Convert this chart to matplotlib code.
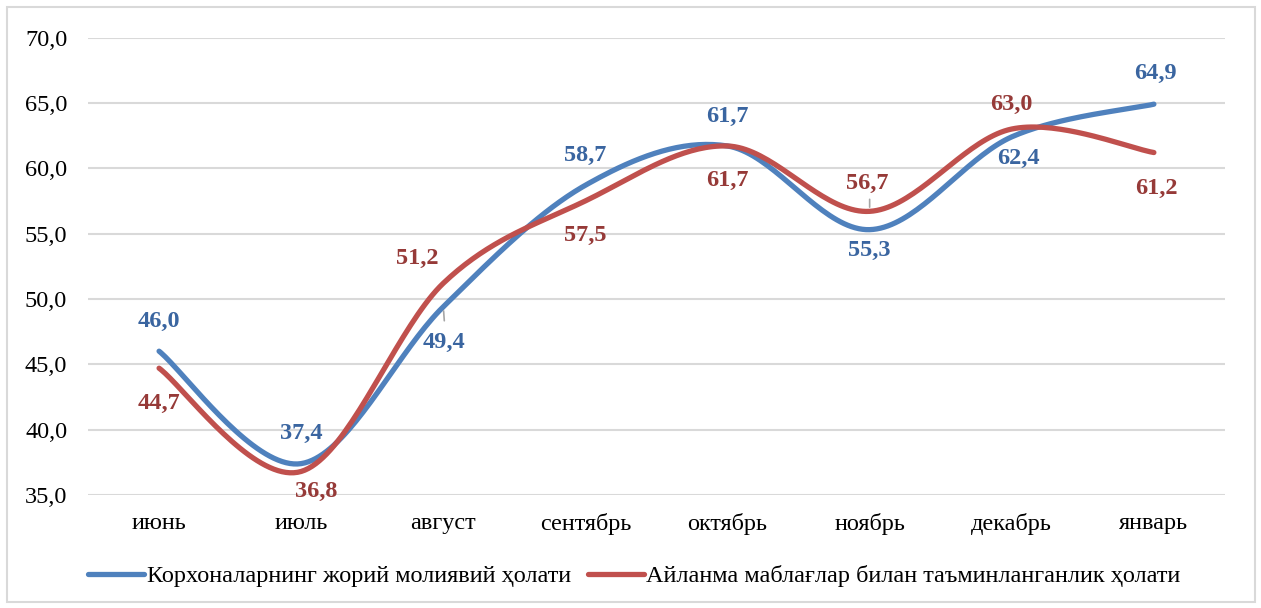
import numpy as np
import matplotlib.pyplot as plt
from matplotlib.patches import Rectangle

plt.rcParams['font.family'] = ['Liberation Serif', 'DejaVu Serif']

months = ['июнь', 'июль', 'август', 'сентябрь', 'октябрь', 'ноябрь', 'декабрь', 'январь']
current_state = [46.0, 37.4, 49.4, 58.7, 61.7, 55.3, 62.4, 64.9]
working_capital = [44.7, 36.8, 51.2, 57.5, 61.7, 56.7, 63.0, 61.2]
names = ['Корхоналарнинг жорий молиявий ҳолати',
         'Айланма маблағлар билан таъминланганлик ҳолати']

# label offsets in pixels (dx, dy) relative to each point
blue_offsets = [(0, 30), (0, 30), (1, -36), (0, 30), (0, 30), (0, -21), (7, -22), (2, 31)]
red_offsets = [(0, -35), (15, -20), (-26, 25), (0, -35), (0, -34), (-2, 28), (0, 25), (2, -36)]

BLUE, BLUE_TXT = '#4f81bd', '#3a65a0'
RED, RED_TXT = '#c0504d', '#963a38'
FS = 17.5


def smooth(x, y, n=40):
    # Catmull-Rom spline, similar to Excel's smoothed line
    p = np.column_stack([x, y]).astype(float)
    p = np.vstack([p[0], p, p[-1]])
    out = []
    t = np.linspace(0, 1, n)[:, None]
    for i in range(1, len(p) - 2):
        p0, p1, p2, p3 = p[i - 1], p[i], p[i + 1], p[i + 2]
        c1 = p1 + (p2 - p0) / 6
        c2 = p2 - (p3 - p1) / 6
        seg = ((1 - t) ** 3) * p1 + 3 * ((1 - t) ** 2) * t * c1 + 3 * (1 - t) * t ** 2 * c2 + t ** 3 * p2
        out.append(seg if i == 1 else seg[1:])
    out = np.vstack(out)
    return out[:, 0], out[:, 1]


fig = plt.figure(figsize=(12.61, 6.08), dpi=100)
ax = fig.add_axes([0.0698, 0.1859, 0.9016, 0.7524])

x = np.arange(len(months))
for vals, col, txtcol, offs, name in [
        (current_state, BLUE, BLUE_TXT, blue_offsets, names[0]),
        (working_capital, RED, RED_TXT, red_offsets, names[1])]:
    sx, sy = smooth(x, vals)
    ax.plot(sx, sy, color=col, lw=3.8, solid_capstyle='round', label=name, zorder=3)
    for xi, v, (dx, dy) in zip(x, vals, offs):
        lab = ('%.1f' % v).replace('.', ',')
        ax.annotate(lab, (xi, v), xytext=(dx, dy), textcoords='offset pixels',
                    ha='center', va='center', fontsize=FS, fontweight='bold',
                    color=txtcol, zorder=4)

# leader lines
ax.annotate('', (2, current_state[2]), xytext=(1, -14), textcoords='offset pixels',
            arrowprops=dict(arrowstyle='-', color='#a6a6a6', lw=1.2, shrinkA=0, shrinkB=3))
ax.annotate('', (5, working_capital[5]), xytext=(0, 12), textcoords='offset pixels',
            arrowprops=dict(arrowstyle='-', color='#a6a6a6', lw=1.2, shrinkA=0, shrinkB=3))

ax.set_xlim(-0.5, 7.5)
ax.set_ylim(35, 70)
ax.set_yticks(np.arange(35, 71, 5))
ax.set_yticklabels([('%.1f' % v).replace('.', ',') for v in np.arange(35, 71, 5)])
ax.set_xticks(x)
ax.set_xticklabels(months)
ax.tick_params(axis='y', length=0, pad=15, labelsize=FS)
ax.tick_params(axis='x', length=0, pad=13, labelsize=FS)
ax.grid(axis='y', color='#d9d9d9', lw=1.5, zorder=0)
ax.set_axisbelow(True)
for s in ax.spines.values():
    s.set_visible(False)

fig.legend(loc='center', bbox_to_anchor=(0.503, 0.052), ncol=2, frameon=False,
           fontsize=FS, handlelength=2.3, handletextpad=0.1, columnspacing=0.7)

fig.patches.append(Rectangle((7 / 1261, 6 / 608), 1248 / 1261, 595 / 608,
                             transform=fig.transFigure, fill=False,
                             edgecolor='#d9d9d9', lw=1.5))

fig.savefig('out.png', dpi=100)
